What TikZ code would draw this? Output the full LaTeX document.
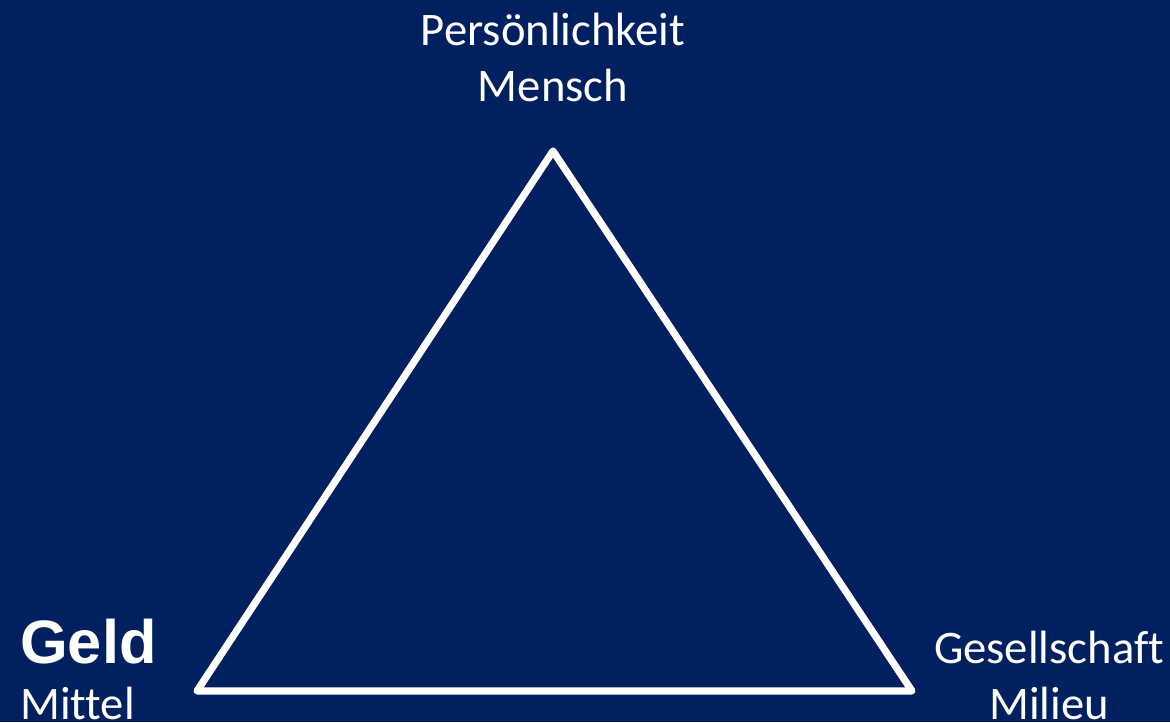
\documentclass[tikz,border=0pt]{standalone}
\usepackage{fontspec}
\setmainfont[Ligatures=NoCommon]{Carlito}
\newfontfamily\arialfont{Liberation Sans}
\definecolor{navy}{HTML}{002060}
\begin{document}
\begin{tikzpicture}[x=0.75pt,y=-0.75pt,
  lbl/.style={text=white,inner sep=0pt,font=\fontsize{35}{42}\selectfont},
  tri/.style={draw=white,line width=5.4pt,line join=round}]
\fill[navy] (0,0) rectangle (1170,722);
\useasboundingbox (0,0) rectangle (1170,722);
\coordinate (A) at (553,151);
\coordinate (B) at (197,691);
\coordinate (C) at (912,691);
\draw[tri] (A) -- (B) -- (C) -- cycle;
\node[lbl,anchor=base] (top1) at (553,45) {Persönlichkeit};
\node[lbl,anchor=base] (top2) at (553,101) {Mensch};
\node[lbl,anchor=base west,font=\arialfont\bfseries\fontsize{46}{50}\selectfont] (geld) at (20,663) {Geld};
\node[lbl,anchor=base west] (mittel) at (20,719) {Mittel};
\node[lbl,anchor=base] (ges1) at (1049,663) {Gesellschaft};
\node[lbl,anchor=base] (ges2) at (1049,719) {Milieu};
\end{tikzpicture}
\end{document}
